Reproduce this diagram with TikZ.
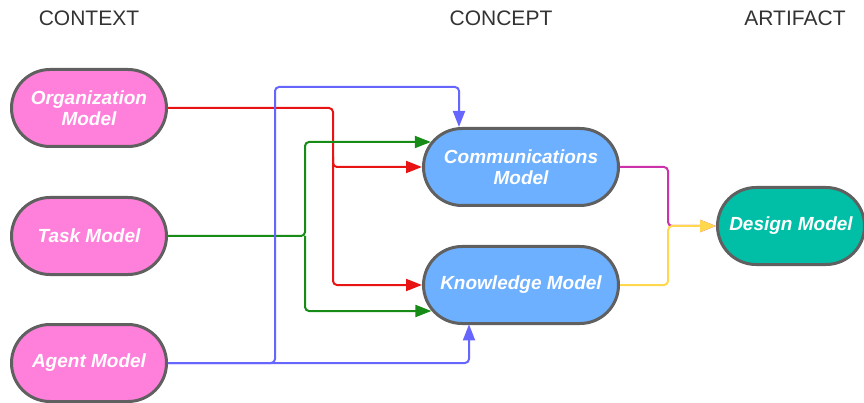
\documentclass[tikz,border=0pt]{standalone}
\usepackage{fontspec}
\setmainfont{Liberation Sans}
\usetikzlibrary{arrows.meta,calc}

\definecolor{ctxfill}{HTML}{FF80DA}
\definecolor{cptfill}{HTML}{6CB0FF}
\definecolor{artfill}{HTML}{00BFA6}
\definecolor{edge}{HTML}{606060}
\definecolor{lnred}{HTML}{E81414}
\definecolor{lngreen}{HTML}{168C16}
\definecolor{lnblue}{HTML}{6666FF}
\definecolor{lnmag}{HTML}{CC33AA}
\definecolor{lnyel}{HTML}{FFD84D}
\definecolor{hdr}{HTML}{333333}

\tikzset{
  model/.style={draw=edge, line width=3pt, rounded corners=38.5pt,
    minimum height=77pt, inner sep=0pt, align=center, text=white,
    font=\fontsize{19}{21}\selectfont\bfseries\itshape},
  ctxbox/.style={model, fill=ctxfill, minimum width=155pt},
  cptbox/.style={model, fill=cptfill, minimum width=195pt},
  artbox/.style={model, fill=artfill, minimum width=147pt},
  header/.style={anchor=base, text=hdr, font=\fontsize{21}{24}\selectfont},
  link/.style={line width=2pt, rounded corners=4pt},
  tip/.style={-{Triangle[length=16pt,width=12pt]}},
}

\begin{document}
\begin{tikzpicture}[x=1pt,y=-1pt]
\useasboundingbox (0,0) rectangle (864,403);

% column headers
\node[header] (hctx) at (89,26) {CONTEXT};
\node[header] (hcpt) at (501,26) {CONCEPT};
\node[header] (hart) at (795,26) {ARTIFACT};

% models
\node[ctxbox] (org)   at (89,108) {Organization\\Model};
\node[ctxbox] (task)  at (89,236) {Task Model};
\node[ctxbox] (agent) at (89,363) {Agent Model};
\node[cptbox] (comm)  at (521,167) {Communications\\Model};
\node[cptbox] (know)  at (521,285) {Knowledge Model};
\node[artbox] (design) at (791,226) {Design Model};

% bus columns
\coordinate (rx) at (333,0);
\coordinate (gx) at (305,0);
\coordinate (bx) at (275,0);
\coordinate (ox) at (668,0);

% entry points on the rounded ends
\coordinate (commG) at ($(comm.center)+(-90.2,-25)$);
\coordinate (knowG) at ($(know.center)+(-89.6,26)$);
\coordinate (commB) at ($(comm.center)+(-62,-40)$);
\coordinate (knowB) at ($(know.center)+(-52,39.4)$);

% organization model -> concepts
\draw[link, lnred, tip] (org.east) -- (org.east -| rx) -- (rx |- comm.west) -- (comm.west);
\draw[link, lnred, tip] ($(rx |- comm.west)+(0,-10)$) -- (rx |- know.west) -- (know.west);

% task model -> concepts
\draw[link, lngreen, tip] (task.east) -- (task.east -| gx) -- (gx |- commG) -- (commG);
\draw[link, lngreen, tip] (task.east -| gx) -- (gx |- knowG) -- (knowG);

% agent model -> concepts
\draw[link, lnblue, tip] (agent.east) -- (agent.east -| bx) -- (bx |- 0,87) -- (commB |- 0,87) -- (commB);
\draw[link, lnblue, tip] (agent.east) -- (agent.east -| knowB) -- (knowB);

% concepts -> design model
\draw[link, lnmag, tip] (comm.east) -- (comm.east -| ox) -- (ox |- design.west) -- (design.west);
\draw[link, lnyel, tip] (know.east) -- (know.east -| ox) -- (ox |- design.west) -- (design.west);
\end{tikzpicture}
\end{document}
